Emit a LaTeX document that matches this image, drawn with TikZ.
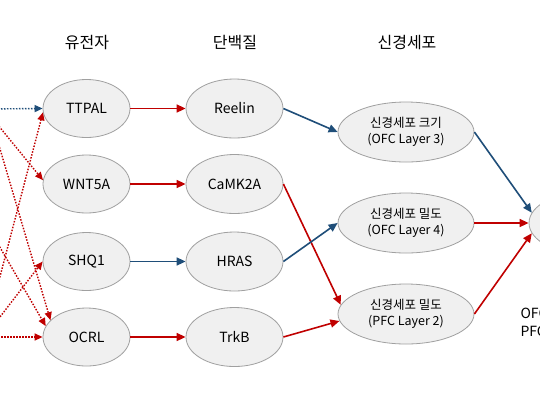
\documentclass[tikz,border=0pt]{standalone}
\usepackage{fontspec}
\setmainfont{Noto Sans CJK KR}
\usepackage{xcolor}
\usetikzlibrary{arrows.meta, positioning, shapes.geometric}
\definecolor{upred}{RGB}{192, 0, 0}
\definecolor{downblue}{RGB}{31, 78, 121}
\definecolor{bubblefill}{RGB}{240, 240, 240}
\definecolor{bubbleline}{RGB}{160, 160, 160}

\begin{document}
\begin{tikzpicture}[x=1pt, y=-1pt,
  bubble/.style={ellipse, draw=bubbleline, fill=bubblefill, line width=0.8pt,
                 inner sep=0pt, font=\fontsize{14}{16}\selectfont},
  gene/.style={bubble, minimum width=87pt, minimum height=58pt},
  prot/.style={bubble, minimum width=97pt, minimum height=59pt},
  cell/.style={bubble, minimum width=136pt, minimum height=60pt, align=center,
               font=\fontsize{12.5}{16}\selectfont},
  coltitle/.style={font=\fontsize{16}{19}\selectfont},
  redarrow/.style={upred, line width=1.6pt, -{Triangle[length=9pt, width=8pt]}},
  bluearrow/.style={downblue, line width=1.6pt, -{Triangle[length=9pt, width=8pt]}},
  reddots/.style={upred, line width=1.4pt, dash pattern=on 1.5pt off 1.5pt,
                  -{Triangle[length=8pt, width=7pt]}},
  bluedots/.style={downblue, line width=1.4pt, dash pattern=on 1.5pt off 1.5pt,
                   -{Triangle[length=8pt, width=7pt]}}]
  \useasboundingbox (0, 0) rectangle (540, 400);
  \fill[white] (0, 0) rectangle (540, 400);
  \clip (0, 0) rectangle (540, 400);

  % Column titles
  \node[coltitle] (genetitle) at (87, 43) {유전자};
  \node[coltitle] (prottitle) at (235, 43) {단백질};
  \node[coltitle] (celltitle) at (407, 43) {신경세포};

  % Genes
  \node[gene] (ttpal) at (86.5, 108.5) {TTPAL};
  \node[gene] (wnt5a) at (86.5, 184) {WNT5A};
  \node[gene] (shq1)  at (86.5, 261.5) {SHQ1};
  \node[gene] (ocrl)  at (86.5, 337) {OCRL};

  % Proteins
  \node[prot] (reelin) at (234.5, 108.5) {Reelin};
  \node[prot] (camk2a) at (234.5, 184) {CaMK2A};
  \node[prot] (hras)   at (234.5, 261.5) {HRAS};
  \node[prot] (trkb)   at (234.5, 337) {TrkB};

  % Neurons
  \node[cell] (size3) at (406, 132) {신경세포 크기\\(OFC Layer 3)};
  \node[cell] (dens4) at (406, 223) {신경세포 밀도\\(OFC Layer 4)};
  \node[cell] (dens2) at (406, 314) {신경세포 밀도\\(PFC Layer 2)};

  % Outcome (cut off at the right)
  \node[bubble, minimum width=122pt, minimum height=64pt] (outcome) at (590, 223) {};
  \node[anchor=west, align=left, font=\fontsize{14}{18}\selectfont] (regions)
    at (517, 322) {OFC\\PFC};

  % Inputs from the left
  \coordinate (in1) at (-20, 109);
  \coordinate (in2) at (-20, 103);
  \coordinate (in3) at (-20, 81);
  \coordinate (in4) at (-20, 353);
  \coordinate (in5) at (-20, 213);
  \coordinate (in6) at (-20, 343);
  \coordinate (in7) at (-20, 337);
  \draw[bluedots] (in1) -- (ttpal.west);
  \draw[reddots] (in2) -- (wnt5a.175);
  \draw[reddots] (in3) -- (ocrl.155);
  \draw[reddots] (in4) -- (ttpal.185);
  \draw[reddots] (in5) -- (ocrl.165);
  \draw[reddots] (in6) -- (shq1.west);
  \draw[reddots] (in7) -- (ocrl.west);

  % Genes to proteins
  \draw[redarrow] (ttpal) -- (reelin);
  \draw[redarrow] (wnt5a) -- (camk2a);
  \draw[bluearrow] (shq1) -- (hras);
  \draw[redarrow] (ocrl) -- (trkb);

  % Proteins to neurons
  \draw[bluearrow] (reelin.east) -- (size3.west);
  \draw[redarrow] (camk2a.east) -- (dens2.172);
  \draw[bluearrow] (hras.east) -- (dens4.west);
  \draw[redarrow] (trkb.east) -- (dens2.186);

  % Neurons to outcome
  \draw[bluearrow] (size3.east) -- (outcome.170);
  \draw[redarrow] (dens4.east) -- (outcome.west);
  \draw[redarrow] (dens2.east) -- (outcome.190);
\end{tikzpicture}
\end{document}
